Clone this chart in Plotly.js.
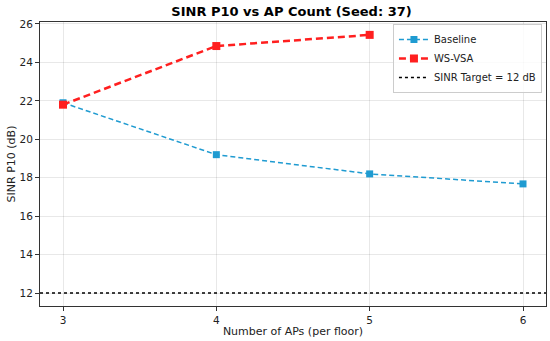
<!DOCTYPE html>
<html><head><meta charset="utf-8">
<script src="https://cdn.plot.ly/plotly-3.0.1.min.js"></script>
<style>html,body{margin:0;padding:0;background:#fff}#chart{width:550px;height:341px}</style>
</head><body><div id="chart"></div>
<script>
const apCounts = [3, 4, 5, 6];
const baselineSinr = [21.9, 19.2, 18.2, 17.68];
const wsvsaAp = [3, 4, 5];
const wsvsaSinr = [21.8, 24.85, 25.43];
const targetSinr = 12;
const targetX = [2.85, 6.15];

const font = 'DejaVu Sans, sans-serif';
const traces = [
  {x: apCounts, y: baselineSinr, name: 'Baseline', mode: 'lines+markers',
   line: {color: '#1f9bd1', width: 1.5, dash: '5px,3px'},
   marker: {symbol: 'square', size: 7, color: '#1f9bd1'}},
  {x: wsvsaAp, y: wsvsaSinr, name: 'WS-VSA', mode: 'lines+markers',
   line: {color: '#ff1f1f', width: 2.5, dash: '7px,4px'},
   marker: {symbol: 'square', size: 8, color: '#ff1f1f'}},
  {x: targetX, y: [targetSinr, targetSinr], name: 'SINR Target = 12 dB', mode: 'lines',
   line: {color: '#000', width: 1.5, dash: 'dot'}}
];
const layout = {
  width: 550, height: 341,
  margin: {l: 40, r: 4, t: 22, b: 35},
  paper_bgcolor: '#fff', plot_bgcolor: '#fff',
  font: {family: font, size: 10.5, color: '#222'},
  title: {text: '<b>SINR P10 vs AP Count (Seed: 37)</b>', font: {family: font, size: 13, color: '#000'},
          x: 0.53, xanchor: 'center', y: 0.965, yanchor: 'middle'},
  xaxis: {range: [2.85, 6.15], tickvals: apCounts, ticktext: ['3','4','5','6'],
          showgrid: true, gridcolor: 'rgba(0,0,0,0.09)', zeroline: false,
          showline: true, linecolor: '#333', linewidth: 1, mirror: true,
          ticks: 'outside', ticklen: 4, tickcolor: '#333',
          title: {text: 'Number of APs (per floor)', font: {family: font, size: 11}, standoff: 2}},
  yaxis: {range: [11.33, 26.1], tickvals: [12,14,16,18,20,22,24,26],
          showgrid: true, gridcolor: 'rgba(0,0,0,0.09)', zeroline: false,
          showline: true, linecolor: '#333', linewidth: 1, mirror: true,
          ticks: 'outside', ticklen: 4, tickcolor: '#333',
          title: {text: 'SINR P10 (dB)', font: {family: font, size: 11}, standoff: 1}},
  legend: {x: 0.992, xanchor: 'right', y: 0.993, yanchor: 'top',
           bgcolor: 'rgba(255,255,255,0.8)', bordercolor: '#ccc', borderwidth: 1,
           font: {family: font, size: 10}, tracegroupgap: 0},
  showlegend: true
};
Plotly.newPlot('chart', traces, layout, {displayModeBar: false, staticPlot: true});
</script></body></html>
